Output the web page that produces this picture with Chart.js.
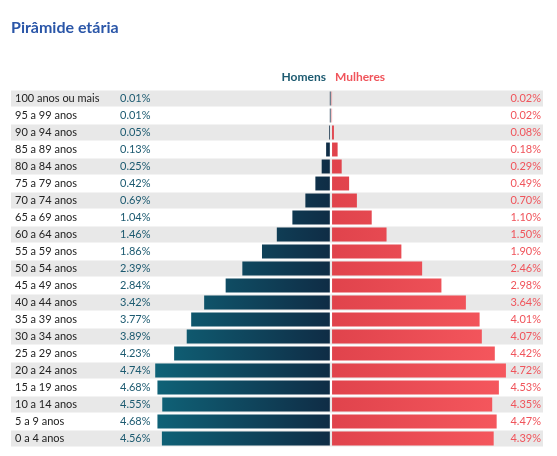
<!DOCTYPE html>
<html><head><meta charset="utf-8">
<script src="https://cdn.jsdelivr.net/npm/chart.js@4/dist/chart.umd.min.js"></script>
<style>html,body{margin:0;padding:0;background:#fff}#w{width:557px;height:456px}</style>
</head><body><div id="w"><canvas id="c"></canvas></div>
<script>
const categories = ["100 anos ou mais","95 a 99 anos","90 a 94 anos","85 a 89 anos","80 a 84 anos","75 a 79 anos","70 a 74 anos","65 a 69 anos","60 a 64 anos","55 a 59 anos","50 a 54 anos","45 a 49 anos","40 a 44 anos","35 a 39 anos","30 a 34 anos","25 a 29 anos","20 a 24 anos","15 a 19 anos","10 a 14 anos","5 a 9 anos","0 a 4 anos"];
const homens = [0.01,0.01,0.05,0.13,0.25,0.42,0.69,1.04,1.46,1.86,2.39,2.84,3.42,3.77,3.89,4.23,4.74,4.68,4.55,4.68,4.56];
const mulheres = [0.02,0.02,0.08,0.18,0.29,0.49,0.70,1.10,1.50,1.90,2.46,2.98,3.64,4.01,4.07,4.42,4.72,4.53,4.35,4.47,4.39];
const gap = 0.03;
const FONT = "Lato, 'Open Sans', sans-serif";

function grad(ctx, men){
  const fb = men ? '#0e5f74' : '#f2545b';
  const s = ctx.chart.scales && ctx.chart.scales.x;
  if(!s || !ctx.chart.chartArea) return fb;
  const z = s.getPixelForValue(0), l = s.getPixelForValue(-4.8), r = s.getPixelForValue(4.8);
  if(![z,l,r].every(Number.isFinite)) return fb;
  const c = ctx.chart.ctx;
  let g;
  if(men){ g = c.createLinearGradient(l, 0, z, 0); g.addColorStop(0,'#0f6378'); g.addColorStop(1,'#0f2c45'); }
  else { g = c.createLinearGradient(z, 0, r, 0); g.addColorStop(0,'#e0434c'); g.addColorStop(1,'#f6585e'); }
  return g;
}

const deco = {
  id:'deco',
  beforeDatasetsDraw(chart){
    const {ctx, chartArea:a, scales:{y}} = chart;
    const h = (a.bottom-a.top)/categories.length;
    ctx.save();
    categories.forEach((c,i)=>{
      if(i%2===0){
        ctx.fillStyle='#e8e8e8';
        ctx.fillRect(a.left, y.getPixelForValue(i)-h/2+0.5, a.right-a.left, h-1);
      }
    });
    ctx.restore();
  },
  afterDatasetsDraw(chart){
    const {ctx, scales:{x,y}} = chart;
    ctx.save();
    ctx.font = "bold 16px "+FONT; ctx.fillStyle='#2a56a8'; ctx.textBaseline='middle'; ctx.textAlign='left';
    ctx.fillText("Pirâmide etária", 11, 28);
    const z = x.getPixelForValue(0);
    ctx.font = "bold 12px "+FONT;
    ctx.textAlign='right'; ctx.fillStyle='#1c5a70'; ctx.fillText("Homens", z-5, 77);
    ctx.textAlign='left'; ctx.fillStyle='#f0545b'; ctx.fillText("Mulheres", z+4, 77);
    ctx.font = "11px "+FONT;
    categories.forEach((c,i)=>{
      const py = y.getPixelForValue(i);
      ctx.textAlign='left'; ctx.fillStyle='#222'; ctx.fillText(c, 15, py);
      ctx.fillStyle='#1c5a70'; ctx.fillText(homens[i].toFixed(2)+'%', 120, py);
      ctx.textAlign='right'; ctx.fillStyle='#f0545b'; ctx.fillText(mulheres[i].toFixed(2)+'%', 541, py);
    });
    ctx.restore();
  }
};

new Chart(document.getElementById('c'), {
  type:'bar',
  data:{ labels:categories, datasets:[
    {label:'Homens', data:homens.map(v=>[-v,-gap]), backgroundColor:(ctx)=>grad(ctx,true)},
    {label:'Mulheres', data:mulheres.map(v=>[gap,v]), backgroundColor:(ctx)=>grad(ctx,false)}
  ]},
  options:{
    indexAxis:'y', responsive:true, maintainAspectRatio:false, animation:false,
    layout:{padding:{top:90,left:11,right:14,bottom:9}},
    datasets:{bar:{grouped:false, barPercentage:0.82, categoryPercentage:1}},
    scales:{
      x:{display:false, min:-8.63, max:5.72},
      y:{display:false}
    },
    plugins:{legend:{display:false}, tooltip:{enabled:false}}
  },
  plugins:[deco]
});
</script></body></html>
